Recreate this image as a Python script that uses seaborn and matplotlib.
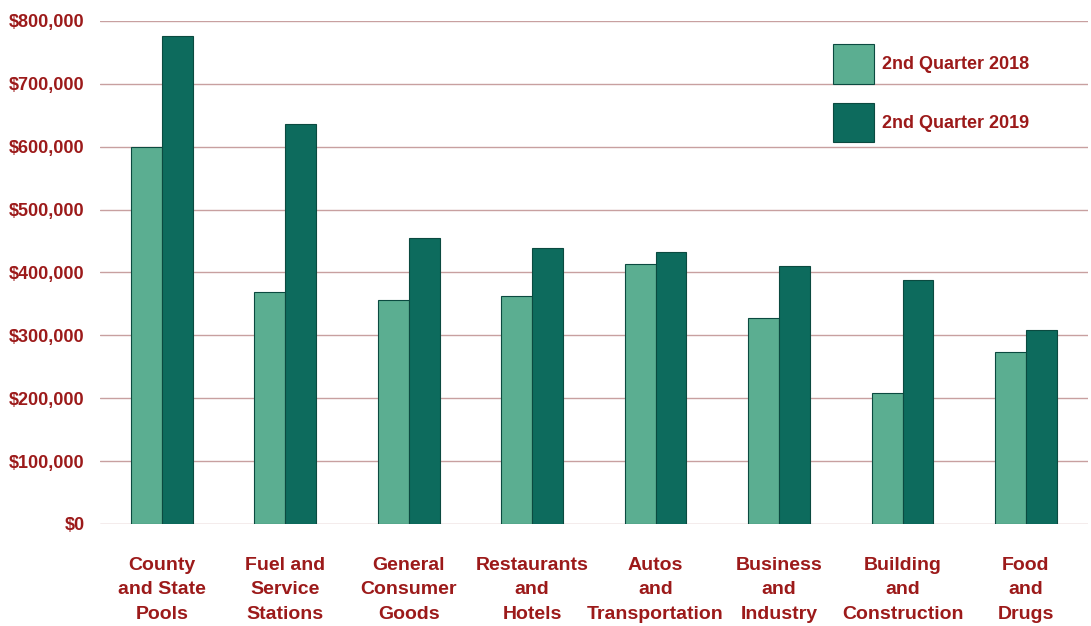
import pandas as pd
import numpy as np
import seaborn as sns
import matplotlib.pyplot as plt
from matplotlib.patches import Patch
from matplotlib.ticker import FuncFormatter

#Chart data
categories = ["County\nand State\nPools", "Fuel and\nService\nStations", "General\nConsumer\nGoods",
              "Restaurants\nand\nHotels", "Autos\nand\nTransportation", "Business\nand\nIndustry",
              "Building\nand\nConstruction", "Food\nand\nDrugs"]
q2_2018 = [600000, 369000, 356000, 362000, 413000, 327000, 208000, 273000]
q2_2019 = [776000, 636000, 455000, 439000, 432000, 410000, 388000, 308000]
series = ["2nd Quarter 2018", "2nd Quarter 2019"]
yticks = [0, 100000, 200000, 300000, 400000, 500000, 600000, 700000, 800000]

df = pd.DataFrame({
    "category": categories * 2,
    "quarter": [series[0]] * len(categories) + [series[1]] * len(categories),
    "sales": q2_2018 + q2_2019,
})

sns.set_style("white")
plt.rcParams['font.family'] = ['Liberation Sans', 'DejaVu Sans']
text_red = "#9c1a1a"
colors = ["#5bae91", "#0d6b5d"]

fig = plt.figure(figsize=(10.91, 6.26), dpi=100)
ax = fig.add_axes([0.0917, 0.163, 0.9053, 0.8035])

sns.barplot(data=df, x="category", y="sales", hue="quarter", palette=colors,
            width=0.5, gap=0, edgecolor="#0b4a40", linewidth=0.8, saturation=1,
            legend=False, ax=ax, zorder=3)

#Axes styling
ax.set_ylim(0, 800000)
ax.set_xlim(-0.5, len(categories) - 0.5)
ax.set_yticks(yticks)
ax.yaxis.set_major_formatter(FuncFormatter(lambda v, p: f"${v:,.0f}"))
ax.grid(axis="y", color="#c8a0a0", linewidth=1, zorder=0)
ax.set_axisbelow(True)
ax.set_xlabel("")
ax.set_ylabel("")
for s in ax.spines.values():
    s.set_visible(False)
ax.tick_params(axis="both", length=0)
ax.tick_params(axis="y", pad=11, labelsize=13, labelcolor=text_red)
ax.tick_params(axis="x", pad=24, labelsize=14, labelcolor=text_red)
ax.set_xticks(range(len(categories)))
ax.set_xticklabels(categories, linespacing=1.55, fontweight="bold")
for lab in ax.get_yticklabels():
    lab.set_fontweight("bold")

#Legend
handles = [Patch(facecolor=c, edgecolor="#0b4a40", linewidth=0.8) for c in colors]
leg = ax.legend(handles, series, loc="upper left", bbox_to_anchor=(0.7635, 0.9297),
                bbox_transform=fig.transFigure, frameon=False, borderpad=0, borderaxespad=0,
                handlelength=2.27, handleheight=3.0, labelspacing=1.05, handletextpad=0.44,
                prop={"size": 13, "weight": "bold"})
for t in leg.get_texts():
    t.set_color(text_red)

fig.savefig("out.png", dpi=100)
